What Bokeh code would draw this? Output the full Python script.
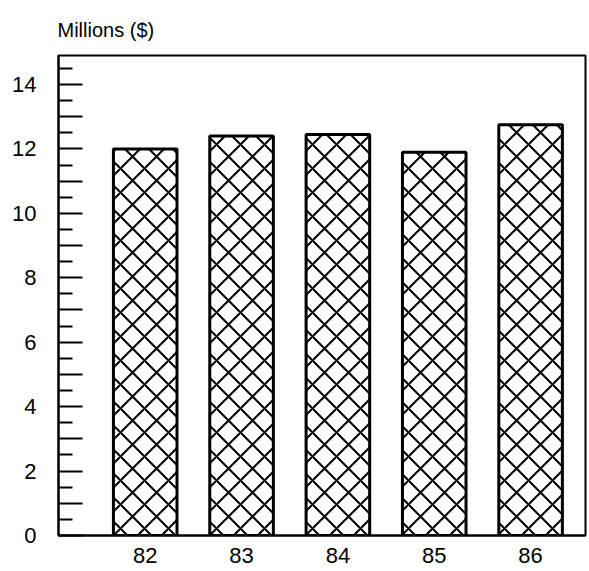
from bokeh.plotting import figure
from bokeh.models import FixedTicker, Range1d
from bokeh.embed import file_html
from bokeh.resources import INLINE

years = ["82", "83", "84", "85", "86"]
x_pos = [82, 83, 84, 85, 86]
values = [12.0, 12.4, 12.45, 11.9, 12.75]
y_ticks = list(range(0, 15))
y_minor = [i + 0.5 for i in range(0, 15)]
y_tick_labels = {i: (str(i) if i % 2 == 0 else "") for i in y_ticks}
title_text = "Millions ($)"

FONT = "Liberation Sans"

p = figure(width=589, height=571, output_backend="svg", toolbar_location=None,
           x_range=Range1d(81.1, 86.57), y_range=Range1d(0, 14.9),
           title=title_text)
p.min_border_left = 58
p.min_border_right = 4
p.min_border_top = 55
p.min_border_bottom = 36

p.title.text_font = FONT
p.title.text_font_size = "20px"
p.title.text_font_style = "normal"
p.title.text_color = "black"
p.title.align = "left"
p.title.offset = -1
p.title.standoff = 30

p.vbar(x=x_pos, top=values, width=0.66, bottom=0,
       fill_color="white", line_color="black", line_width=3,
       hatch_pattern="x", hatch_scale=24, hatch_weight=2, hatch_color="black")

p.xgrid.visible = False
p.ygrid.visible = False
p.outline_line_color = "black"
p.outline_line_width = 2
p.background_fill_color = "white"
p.border_fill_color = "white"

xa = p.xaxis[0]
xa.ticker = FixedTicker(ticks=x_pos)
xa.major_label_overrides = {x: y for x, y in zip(x_pos, years)}
xa.major_tick_in = 0
xa.major_tick_out = 0
xa.minor_tick_in = 0
xa.minor_tick_out = 0
xa.axis_line_width = 2
xa.major_label_standoff = 12
xa.major_label_text_font = FONT
xa.major_label_text_font_size = "22px"
xa.major_label_text_color = "black"

ya = p.yaxis[0]
ya.ticker = FixedTicker(ticks=y_ticks, minor_ticks=y_minor)
ya.major_label_overrides = y_tick_labels
ya.major_tick_in = 24
ya.major_tick_out = 0
ya.minor_tick_in = 14
ya.minor_tick_out = 0
ya.major_tick_line_width = 2
ya.minor_tick_line_width = 2
ya.major_tick_line_color = "black"
ya.minor_tick_line_color = "black"
ya.axis_line_width = 2
ya.major_label_standoff = 22
ya.major_label_text_font = FONT
ya.major_label_text_font_size = "22px"
ya.major_label_text_color = "black"

open("out.html", "w").write(file_html(p, INLINE))
